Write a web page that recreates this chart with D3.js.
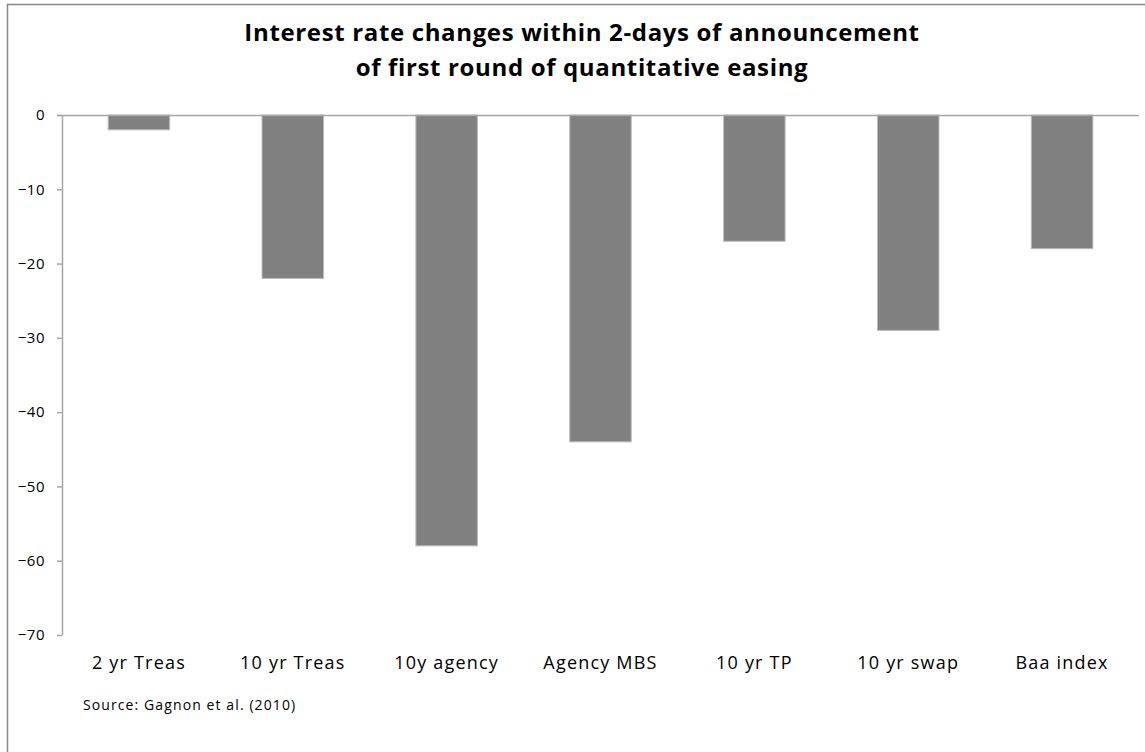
<!DOCTYPE html>
<html><head><meta charset="utf-8">
<script src="https://cdn.jsdelivr.net/npm/d3@7"></script>
<style>body{margin:0;background:#fff;}svg{display:block;font-family:"Open Sans",sans-serif;}</style>
</head><body>
<svg id="c" width="1145" height="752"></svg>
<script>
const categories = ["2 yr Treas","10 yr Treas","10y agency","Agency MBS","10 yr TP","10 yr swap","Baa index"];
const values = [-2,-22,-58,-44,-17,-29,-18];
const yTicks = [0,-10,-20,-30,-40,-50,-60,-70];
const titleLines = ["Interest rate changes within 2-days of announcement","of first round of quantitative easing"];
const sourceText = "Source: Gagnon et al. (2010)";

const svg = d3.select("#c");
svg.append("rect").attr("x",7.5).attr("y",4.5).attr("width",1145).attr("height",760)
  .attr("fill","#fff").attr("stroke","#888").attr("stroke-width",1.5);

const x = d3.scaleBand().domain(categories).range([62,1139]).paddingInner(0.6).paddingOuter(0.3);
const y = d3.scaleLinear().domain([-70,0]).range([635,115]);

svg.selectAll(".bar").data(values).enter().append("rect")
  .attr("x",(d,i)=>x(categories[i])).attr("width",x.bandwidth())
  .attr("y",y(0)).attr("height",d=>y(d)-y(0))
  .attr("fill","#808080").attr("stroke","#bdbdbd").attr("stroke-width",1);

const yAxis = svg.append("g").attr("transform","translate(62,0)")
  .call(d3.axisLeft(y).tickValues(yTicks).tickSize(5).tickPadding(12).tickSizeOuter(0));
yAxis.select(".domain").attr("stroke","#a6a6a6").attr("stroke-width",1.5);
yAxis.selectAll(".tick line").attr("stroke","#a6a6a6").attr("stroke-width",1.5);
yAxis.selectAll(".tick text").attr("font-size",15).attr("fill","#000").attr("font-family","'Open Sans',sans-serif")
  .attr("letter-spacing",0.5);

const xAxis = svg.append("g").attr("transform",`translate(0,${y(0)})`)
  .call(d3.axisBottom(x).tickSize(0).tickSizeOuter(0));
xAxis.select(".domain").attr("stroke","#a6a6a6").attr("stroke-width",1.5).attr("d","M57,0.5H1139");
xAxis.selectAll(".tick text").attr("y",y(-70)-y(0)+21).attr("font-size",18).attr("fill","#000")
  .attr("font-family","'Open Sans',sans-serif").attr("letter-spacing",1.2);

svg.selectAll(".title").data(titleLines).enter().append("text")
  .attr("x",582).attr("y",(d,i)=>41+i*35).attr("text-anchor","middle")
  .attr("font-size",24).attr("font-weight","bold").attr("fill","#000").attr("letter-spacing",0.65).text(d=>d);

svg.append("text").attr("x",83).attr("y",710).attr("font-size",14).attr("fill","#000")
  .attr("letter-spacing",1.1).text(sourceText);
</script>
</body></html>
